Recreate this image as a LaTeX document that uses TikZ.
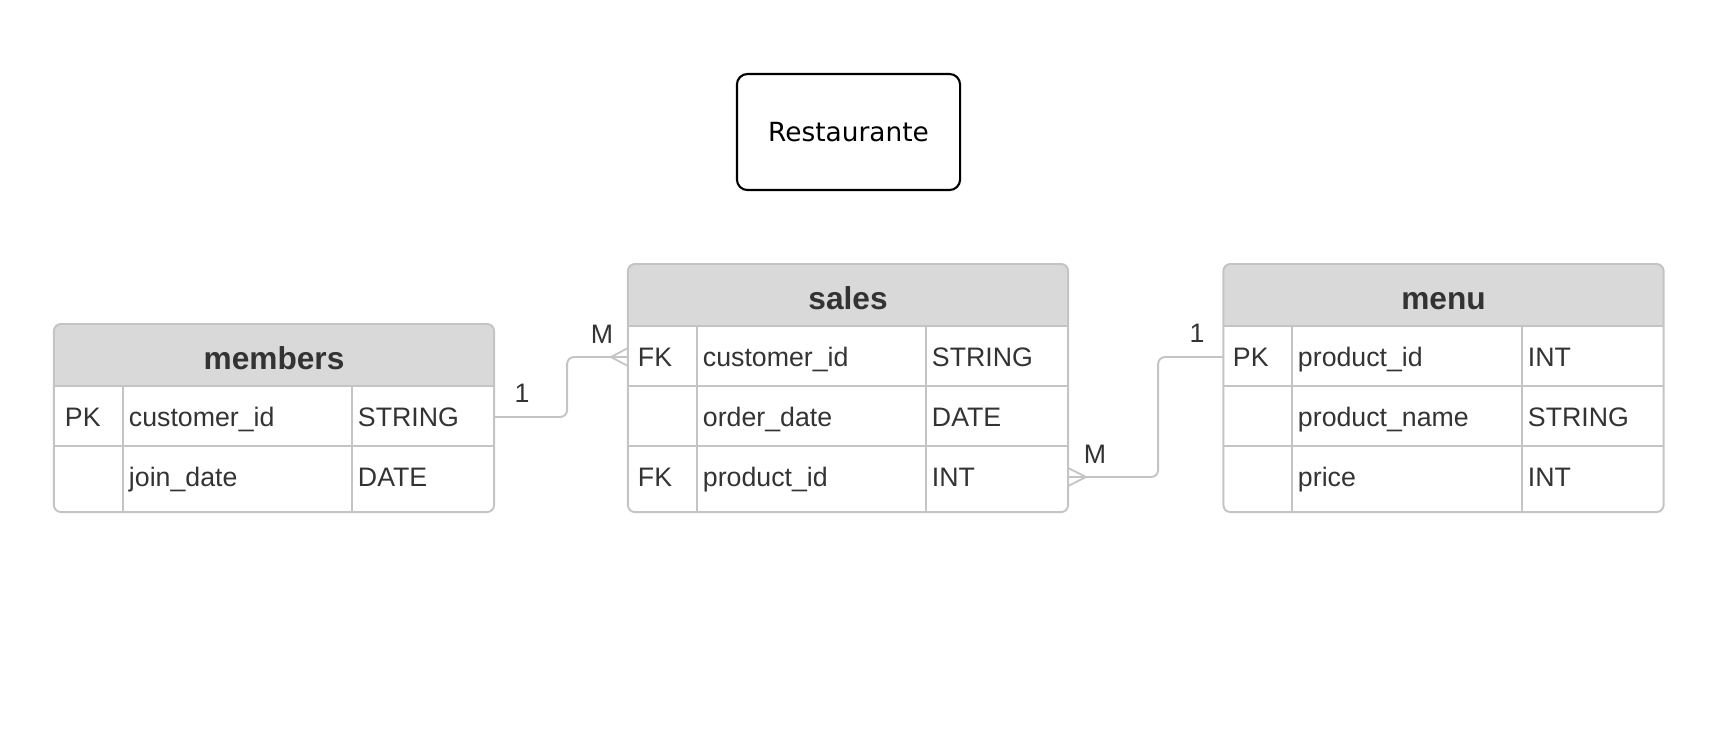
\documentclass[tikz,border=0pt]{standalone}
\usepackage{fontspec}
\setmainfont{Liberation Sans}
\newfontfamily\boxfont{DejaVu Sans}
\usetikzlibrary{calc}
\definecolor{tblline}{RGB}{196,196,196}
\definecolor{hdrfill}{RGB}{217,217,217}
\definecolor{txt}{RGB}{51,51,51}

\begin{document}
\begin{tikzpicture}[x=0.01cm, y=-0.01cm, line width=0.55pt,
  tblframe/.style={minimum width=4.38cm, inner sep=0},
  row/.style={minimum width=4.38cm, minimum height=0.6cm, inner sep=0},
  cell/.style={anchor=west, inner sep=0, text height=1.9mm, text depth=0mm, font=\fontsize{7.6}{9}\selectfont, text=txt},
  hdr/.style={inner sep=0, text height=6.5pt, text depth=0pt, font=\bfseries\fontsize{9}{11}\selectfont, text=txt},
  lbl/.style={inner sep=0, font=\fontsize{7.6}{9}\selectfont, text=txt},
  conn/.style={draw=tblline, rounded corners=2pt},
  crow/.style={draw=tblline, line width=0.5pt},
  titlebox/.style={draw=black, line width=0.6pt, rounded corners=3pt, minimum width=2.23cm, minimum height=1.16cm, font=\boxfont\fontsize{7.5}{9}\selectfont}]
\useasboundingbox (0,0) rectangle (1734,738);

\node[titlebox] (title) at (848.5,132) {Restaurante};

% members
\node[tblframe, minimum height=1.86cm] (members) at (274,418) {};
\fill[hdrfill, rounded corners=2pt] (members.north west) rectangle ($(members.north east)+(0,62)$);
\fill[hdrfill] ($(members.north west)+(0,30)$) rectangle ($(members.north east)+(0,62)$);
\node[row] (mem-r1) at (274,417) {};
\node[row] (mem-r2) at (274,477) {};
\draw[tblline] (mem-r1.north west) -- (mem-r1.north east);
\draw[tblline] (mem-r2.north west) -- (mem-r2.north east);
\draw[tblline] (123,387) -- (123,511);
\draw[tblline] (352,387) -- (352,511);
\draw[tblline, rounded corners=2pt] (members.north west) rectangle (members.south east);
\node[hdr] (mem-h) at (274,358) {members};
\node[cell] (mem-k1) at (64,417) {PK};
\node[cell] (mem-n1) at (128,417) {customer\_id};
\node[cell] (mem-t1) at (357,417) {STRING};
\node[cell] (mem-n2) at (128,477) {join\_date};
\node[cell] (mem-t2) at (357,477) {DATE};

% sales
\node[tblframe, minimum height=2.46cm] (sales) at (848,388) {};
\fill[hdrfill, rounded corners=2pt] (sales.north west) rectangle ($(sales.north east)+(0,62)$);
\fill[hdrfill] ($(sales.north west)+(0,30)$) rectangle ($(sales.north east)+(0,62)$);
\node[row] (sal-r1) at (848,357) {};
\node[row] (sal-r2) at (848,417) {};
\node[row] (sal-r3) at (848,477) {};
\draw[tblline] (sal-r1.north west) -- (sal-r1.north east);
\draw[tblline] (sal-r2.north west) -- (sal-r2.north east);
\draw[tblline] (sal-r3.north west) -- (sal-r3.north east);
\draw[tblline] (697,327) -- (697,511);
\draw[tblline] (926,327) -- (926,511);
\draw[tblline, rounded corners=2pt] (sales.north west) rectangle (sales.south east);
\node[hdr] (sal-h) at (848,298) {sales};
\node[cell] (sal-k1) at (637,357) {FK};
\node[cell] (sal-n1) at (702,357) {customer\_id};
\node[cell] (sal-t1) at (931,357) {STRING};
\node[cell] (sal-n2) at (702,417) {order\_date};
\node[cell] (sal-t2) at (931,417) {DATE};
\node[cell] (sal-k3) at (637,477) {FK};
\node[cell] (sal-n3) at (702,477) {product\_id};
\node[cell] (sal-t3) at (931,477) {INT};

% menu
\node[tblframe, minimum height=2.46cm] (menu) at (1443.5,388) {};
\fill[hdrfill, rounded corners=2pt] (menu.north west) rectangle ($(menu.north east)+(0,62)$);
\fill[hdrfill] ($(menu.north west)+(0,30)$) rectangle ($(menu.north east)+(0,62)$);
\node[row] (menu-r1) at (1443.5,357) {};
\node[row] (menu-r2) at (1443.5,417) {};
\node[row] (menu-r3) at (1443.5,477) {};
\draw[tblline] (menu-r1.north west) -- (menu-r1.north east);
\draw[tblline] (menu-r2.north west) -- (menu-r2.north east);
\draw[tblline] (menu-r3.north west) -- (menu-r3.north east);
\draw[tblline] (1292,327) -- (1292,511);
\draw[tblline] (1522,327) -- (1522,511);
\draw[tblline, rounded corners=2pt] (menu.north west) rectangle (menu.south east);
\node[hdr] (menu-h) at (1443.5,298) {menu};
\node[cell] (menu-k1) at (1232,357) {PK};
\node[cell] (menu-n1) at (1297,357) {product\_id};
\node[cell] (menu-t1) at (1527,357) {INT};
\node[cell] (menu-n2) at (1297,417) {product\_name};
\node[cell] (menu-t2) at (1527,417) {STRING};
\node[cell] (menu-n3) at (1297,477) {price};
\node[cell] (menu-t3) at (1527,477) {INT};

% relations
\draw[conn] (mem-r1.east) -- ++(73,0) |- (sal-r1.west);
\draw[crow] ([yshift=0.09cm]sal-r1.west) -- ++(-17,9) -- ([yshift=-0.09cm]sal-r1.west);
\node[lbl] (rel1-one) at (522,393) {1};
\node[lbl] (rel1-many) at (602,334) {M};

\draw[conn] (sal-r3.east) -- ++(90,0) |- (menu-r1.west);
\draw[crow] ([yshift=0.09cm]sal-r3.east) -- ++(18,9) -- ([yshift=-0.09cm]sal-r3.east);
\node[lbl] (rel2-many) at (1095,454) {M};
\node[lbl] (rel2-one) at (1197,333) {1};
\end{tikzpicture}
\end{document}
